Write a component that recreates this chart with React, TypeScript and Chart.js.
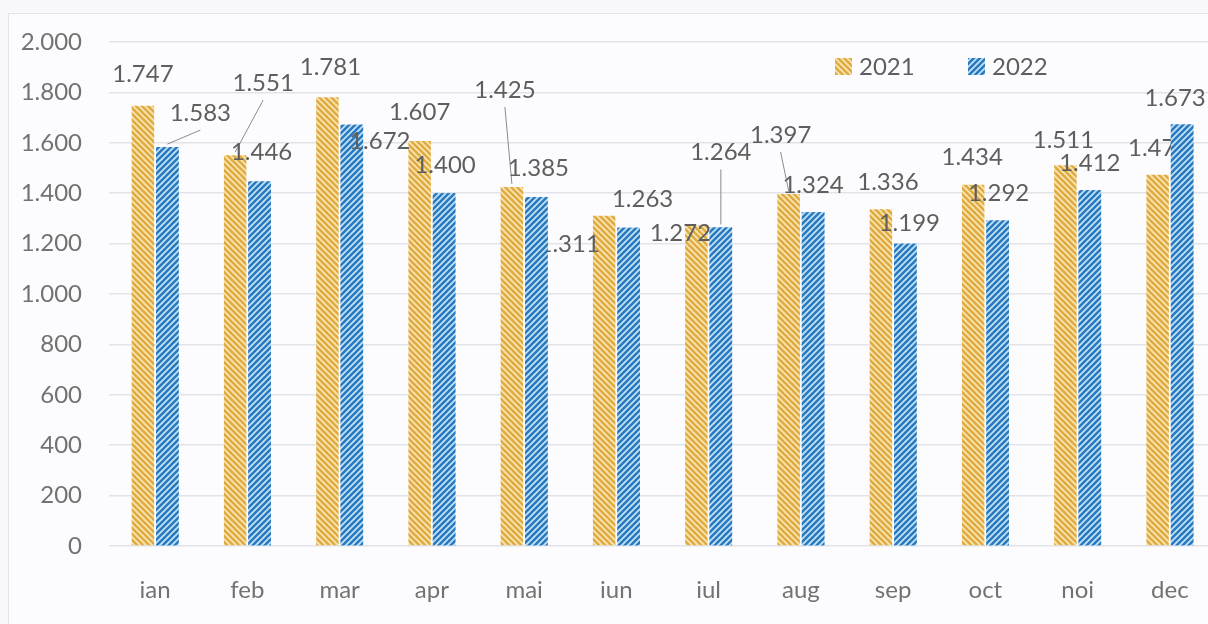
import { useEffect, useRef } from 'react';
import { Chart, registerables } from 'chart.js';

Chart.register(...registerables);

const months = ['ian', 'feb', 'mar', 'apr', 'mai', 'iun', 'iul', 'aug', 'sep', 'oct', 'noi', 'dec'];
const seriesNames = ['2021', '2022'];
const values2021 = [1747, 1551, 1781, 1607, 1425, 1311, 1272, 1397, 1336, 1434, 1511, 1473];
const values2022 = [1583, 1446, 1672, 1400, 1385, 1263, 1264, 1324, 1199, 1292, 1412, 1673];
const yMin = 0;
const yMax = 2000;
const yStep = 200;

// label placement tweaks (pixels relative to bar top centre), as in the original scan
const labelDx2021 = [0, 28, 3, 0, -7, -35, -16, -8, 7, -1, -2, 1];
const labelDy2021 = [-31, -72, -30, -29, -97, 29, 8, -59, -27, -27, -25, -27];
const leader2021 = [false, true, false, false, true, false, false, true, false, false, false, false];
const labelDx2022 = [33, 2, 28, 1, 2, 14, 0, 0, 4, 1, 0, -7];
const labelDy2022 = [-34, -29, 17, -28, -29, -28, -75, -27, -21, -27, -27, -26];
const leader2022 = [true, false, false, false, false, false, true, false, false, false, false, false];

const FONT = 'Lato, "Open Sans", sans-serif';

function fmt(n: number): string {
  const s = Math.round(n).toString();
  return s.replace(/\B(?=(\d{3})+(?!\d))/g, '.');
}

function makePattern(light: string, dark: string, dir: 'back' | 'fwd'): CanvasPattern | string {
  const size = 6;
  const c = document.createElement('canvas');
  c.width = size;
  c.height = size;
  const g = c.getContext('2d');
  if (!g) return dark;
  g.fillStyle = light;
  g.fillRect(0, 0, size, size);
  g.strokeStyle = dark;
  g.lineWidth = 2.6;
  g.lineCap = 'square';
  const segs =
    dir === 'back'
      ? [
          [-size, 0, size, 2 * size],
          [0, 0, size, size],
          [0, -size, 2 * size, size],
        ]
      : [
          [0, size, size, 0],
          [-size, size, size, -size],
          [0, 2 * size, 2 * size, 0],
        ];
  for (const [x1, y1, x2, y2] of segs) {
    g.beginPath();
    g.moveTo(x1, y1);
    g.lineTo(x2, y2);
    g.stroke();
  }
  const ctx = document.createElement('canvas').getContext('2d');
  return (ctx && ctx.createPattern(c, 'repeat')) || dark;
}

function drawLabels(chart: any, di: number) {
  const ctx = chart.ctx;
  const dx = [labelDx2021, labelDx2022][di];
  const dy = [labelDy2021, labelDy2022][di];
  const lead = [leader2021, leader2022][di];
  const ds = chart.data.datasets[di];
  const meta = chart.getDatasetMeta(di);
  ctx.save();
  meta.data.forEach((el: any, i: number) => {
    const bx = el.x;
    const by = el.y;
    const cx = bx + dx[i];
    const cy = by + dy[i];
    if (lead[i]) {
      ctx.strokeStyle = '#8a8a8a';
      ctx.lineWidth = 1;
      ctx.beginPath();
      ctx.moveTo(cx, cy + 17);
      ctx.lineTo(bx, by - 3);
      ctx.stroke();
    }
    ctx.fillStyle = '#5e5e5e';
    ctx.font = `24px ${FONT}`;
    ctx.textAlign = 'center';
    ctx.textBaseline = 'middle';
    ctx.fillText(fmt(ds.data[i]), cx, cy);
  });
  ctx.restore();
}

// Order as in the scan: 2021 bars, 2021 labels, 2022 bars, 2022 labels
const labelPlugin = {
  id: 'scanLabels',
  afterDatasetsDraw(chart: any) {
    drawLabels(chart, 0);
    const ctx = chart.ctx;
    const area = chart.chartArea;
    ctx.save();
    ctx.beginPath();
    ctx.rect(area.left, area.top, area.right - area.left, area.bottom - area.top);
    ctx.clip();
    chart.getDatasetMeta(1).data.forEach((el: any) => el.draw(ctx));
    ctx.restore();
    drawLabels(chart, 1);
  },
};

const legendPlugin = {
  id: 'scanLegend',
  afterDraw(chart: any) {
    const ctx = chart.ctx;
    const starts = [835, 968];
    ctx.save();
    chart.data.datasets.forEach((ds: any, di: number) => {
      const x = starts[di];
      ctx.fillStyle = ds.backgroundColor;
      ctx.fillRect(x, 58, 17, 17);
      ctx.fillStyle = '#5e5e5e';
      ctx.font = `24px ${FONT}`;
      ctx.textAlign = 'left';
      ctx.textBaseline = 'middle';
      ctx.fillText(ds.label, x + 24, 67);
    });
    ctx.restore();
  },
};

export default function App() {
  const ref = useRef<HTMLCanvasElement | null>(null);

  useEffect(() => {
    if (!ref.current) return;
    const yellow = makePattern('#f8e6b4', '#dfaa42', 'back');
    const blue = makePattern('#c6e4f7', '#2a7abf', 'fwd');
    const chart = new Chart(ref.current, {
      type: 'bar',
      data: {
        labels: months,
        datasets: [
          {
            label: seriesNames[0],
            data: values2021,
            backgroundColor: yellow as any,
            categoryPercentage: 0.53,
            barPercentage: 0.92,
          },
          {
            label: seriesNames[1],
            data: values2022,
            backgroundColor: blue as any,
            categoryPercentage: 0.53,
            barPercentage: 0.92,
          },
        ],
      },
      options: {
        responsive: false,
        animation: false,
        layout: { padding: { left: 0, right: 0, top: 42, bottom: 0 } },
        plugins: {
          legend: { display: false },
          tooltip: { enabled: false },
        },
        scales: {
          x: {
            grid: { display: false },
            border: { display: false },
            ticks: { color: '#727272', font: { family: FONT, size: 24 }, padding: 22 },
            afterFit: (s: any) => {
              s.height = 78;
            },
          },
          y: {
            min: yMin,
            max: yMax,
            ticks: {
              stepSize: yStep,
              color: '#727272',
              font: { family: FONT, size: 24 },
              padding: 27,
              callback: (v: any) => fmt(Number(v)),
            },
            grid: { color: '#e2e3e8', drawTicks: false, lineWidth: 1.5 },
            border: { display: false },
            afterFit: (s: any) => {
              s.width = 109;
            },
          },
        },
      },
      plugins: [labelPlugin, legendPlugin],
    });
    return () => chart.destroy();
  }, []);

  return (
    <div
      style={{
        position: 'fixed',
        left: 0,
        top: 0,
        width: 1208,
        height: 624,
        overflow: 'hidden',
        background: '#f8f8fb',
      }}
    >
      <div
        style={{
          position: 'absolute',
          left: 8,
          top: 13,
          right: -10,
          bottom: -10,
          borderLeft: '1px solid #e4e4e8',
          borderTop: '1px solid #e4e4e8',
          background: '#fcfcfe',
        }}
      />
      <canvas ref={ref} width={1216} height={624} style={{ position: 'absolute', left: 0, top: 0 }} />
    </div>
  );
}
